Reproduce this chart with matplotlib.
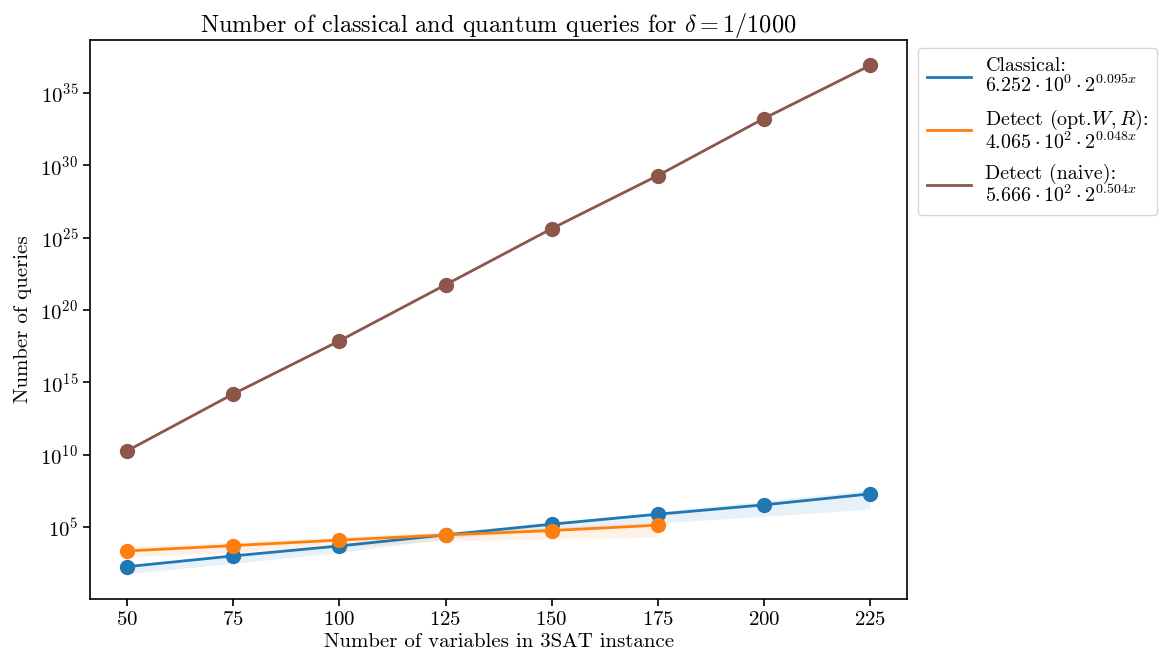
import numpy as np
import matplotlib
matplotlib.use("Agg")
import matplotlib.pyplot as plt

plt.rcParams.update({
    "font.family": "serif",
    "font.serif": ["cmr10"],
    "mathtext.fontset": "cm",
    "axes.formatter.use_mathtext": True,
    "axes.unicode_minus": False,
})

# Number of variables in each 3SAT instance
n_vars = [50, 75, 100, 125, 150, 175, 200, 225]
n_vars_detect = [50, 75, 100, 125, 150, 175]

# Classical query counts and spread
classical = [1.9e2, 1.05e3, 5.1e3, 2.95e4, 1.62e5, 7.9e5, 3.5e6, 2.0e7]
classical_lo = [6.3e1, 3.2e2, 1.8e3, 1.6e4, 7.1e4, 2.0e5, 5.6e5, 1.8e6]
classical_hi = [2.2e2, 1.26e3, 6.3e3, 3.5e4, 2.2e5, 1.12e6, 6.6e6, 3.8e7]

# Detect with optimised W, R
detect_opt = [2.3e3, 5.4e3, 1.29e4, 2.95e4, 5.9e4, 1.38e5]
detect_opt_lo = [8.7e2, 1.95e3, 4.4e3, 1.12e4, 1.55e4, 2.1e4]
detect_opt_hi = [4.4e3, 9.5e3, 2.1e4, 5.5e4, 1.05e5, 2.3e5]

# Detect, naive parameters
detect_naive = [1.9e10, 1.6e14, 7.4e17, 5.5e21, 4.1e25, 1.9e29, 1.66e33, 7.6e36]

legend_labels = [
    "Classical:\n$6.252 \\cdot 10^{0} \\cdot 2^{0.095x}$",
    "Detect (opt.$W, R$):\n$4.065 \\cdot 10^{2} \\cdot 2^{0.048x}$",
    "Detect (naive):\n$5.666 \\cdot 10^{2} \\cdot 2^{0.504x}$",
]

blue, orange, brown = "#1f77b4", "#ff7f0e", "#8c564b"

fig = plt.figure(figsize=(11.59, 6.57), dpi=100)
ax = fig.add_axes([0.0777, 0.0883, 0.705, 0.8507])

ax.fill_between(n_vars, classical_lo, classical_hi, color=blue, alpha=0.1, lw=0)
ax.fill_between(n_vars_detect, detect_opt_lo, detect_opt_hi, color=orange, alpha=0.1, lw=0)

l1, = ax.plot(n_vars, classical, color=blue, lw=2, label=legend_labels[0])
l2, = ax.plot(n_vars_detect, detect_opt, color=orange, lw=2, label=legend_labels[1])
l3, = ax.plot(n_vars, detect_naive, color=brown, lw=2, label=legend_labels[2])
ax.plot(n_vars, classical, "o", color=blue, ms=10)
ax.plot(n_vars_detect, detect_opt, "o", color=orange, ms=10)
ax.plot(n_vars, detect_naive, "o", color=brown, ms=10)

ax.set_yscale("log")
ax.set_yticks([1e5, 1e10, 1e15, 1e20, 1e25, 1e30, 1e35])
ax.minorticks_off()
ax.set_xticks(n_vars)
ax.tick_params(labelsize=15, width=1.2, length=5)
for s in ax.spines.values():
    s.set_linewidth(1.2)

ax.set_xlabel("Number of variables in 3SAT instance", fontsize=15, labelpad=3)
ax.set_ylabel("Number of queries", fontsize=15, labelpad=6)
ax.set_title("Number of classical and quantum queries for $\\delta = 1/1000$", fontsize=17.5, pad=6)

leg = ax.legend(handles=[l1, l2, l3], loc="upper left", bbox_to_anchor=(1.004, 1.0),
                fontsize=14.4, handlelength=2.2, handletextpad=0.7,
                labelspacing=0.55, borderaxespad=0.4, borderpad=0.45)
for t in leg.get_texts():
    t.set_linespacing(1.0)

fig.savefig("out.png", dpi=100)
